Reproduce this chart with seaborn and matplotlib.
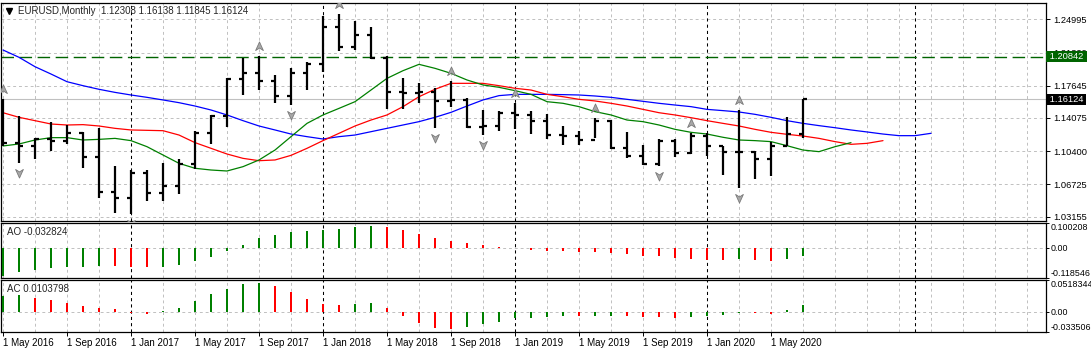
import numpy as np
import pandas as pd
import matplotlib
matplotlib.use("Agg")
import matplotlib.pyplot as plt
from matplotlib.path import Path
from matplotlib.transforms import offset_copy, blended_transform_factory
import seaborn as sns

# EURUSD monthly bars, May 2016 .. Jul 2020
months = pd.date_range("2016-05-01", periods=51, freq="MS")
open_ = [1.1451, 1.1131, 1.1103, 1.1175, 1.1157, 1.1240, 1.0981, 1.0588,
         1.0517, 1.0798, 1.0575, 1.0652, 1.0895, 1.1242, 1.1426, 1.1842, 1.1905, 1.1813, 1.1646, 1.1903,
         1.2005, 1.2414, 1.2193, 1.2324, 1.2076, 1.1693, 1.1684, 1.1690, 1.1601, 1.1604, 1.1312, 1.1314,
         1.1467, 1.1445, 1.1372, 1.1217, 1.1213, 1.1169, 1.1370, 1.1076, 1.0989, 1.0899, 1.1151, 1.1017,
         1.1213, 1.1093, 1.1027, 1.1031, 1.0955, 1.1101, 1.12308]
high = [1.1616, 1.1428, 1.1186, 1.1366, 1.1327, 1.1256, 1.1300, 1.0875,
        1.0829, 1.0829, 1.0906, 1.0951, 1.1268, 1.1446, 1.1846, 1.2070, 1.2092, 1.1880, 1.1961, 1.2023,
        1.2537, 1.2556, 1.2476, 1.2414, 1.2097, 1.1852, 1.1791, 1.1734, 1.1815, 1.1625, 1.1500, 1.1486,
        1.1570, 1.1489, 1.1448, 1.1324, 1.1264, 1.1412, 1.1382, 1.1250, 1.1109, 1.1179, 1.1176, 1.1240,
        1.1239, 1.1099, 1.1495, 1.1039, 1.1146, 1.1422, 1.16138]
low = [1.1098, 1.0912, 1.0952, 1.1045, 1.1122, 1.0851, 1.0518, 1.0352,
       1.0340, 1.0494, 1.0494, 1.0569, 1.0839, 1.1119, 1.1312, 1.1662, 1.1717, 1.1575, 1.1554, 1.1718,
       1.1916, 1.2154, 1.2155, 1.2055, 1.1510, 1.1508, 1.1576, 1.1301, 1.1526, 1.1302, 1.1216, 1.1269,
       1.1289, 1.1234, 1.1176, 1.1110, 1.1107, 1.1181, 1.1067, 1.0963, 1.0885, 1.0879, 1.0981, 1.1010,
       1.0992, 1.0778, 1.0636, 1.0727, 1.0767, 1.1098, 1.11845]
close = [1.1130, 1.1103, 1.1174, 1.1157, 1.1240, 1.0981, 1.0588, 1.0517,
         1.0798, 1.0575, 1.0652, 1.0895, 1.1242, 1.1426, 1.1842, 1.1905, 1.1813, 1.1646, 1.1903, 1.2005,
         1.2414, 1.2193, 1.2324, 1.2076, 1.1693, 1.1684, 1.1690, 1.1601, 1.1604, 1.1312, 1.1314, 1.1467,
         1.1445, 1.1372, 1.1217, 1.1213, 1.1169, 1.1370, 1.1076, 1.0989, 1.0899, 1.1151, 1.1017, 1.1213,
         1.1093, 1.1027, 1.1031, 1.0955, 1.1101, 1.1233, 1.16124]

# Alligator lines (they run on past the last bar)
jaw = [1.2160, 1.2079, 1.1975, 1.1894, 1.1809, 1.1765, 1.1725, 1.1691, 1.1662, 1.1636,
       1.1607, 1.1577, 1.1540, 1.1496, 1.1441, 1.1378, 1.1319, 1.1275, 1.1230, 1.1201,
       1.1175, 1.1201, 1.1219, 1.1256, 1.1293, 1.1330, 1.1367, 1.1415, 1.1470, 1.1540,
       1.1607, 1.1655, 1.1669, 1.1669, 1.1669, 1.1666, 1.1662, 1.1651, 1.1636, 1.1614,
       1.1592, 1.1570, 1.1551, 1.1533, 1.1503, 1.1489, 1.1474, 1.1448, 1.1415, 1.1378,
       1.1348, 1.1323, 1.1300, 1.1275, 1.1253, 1.1230, 1.1212, 1.1212, 1.1238]
teeth = [1.1466, 1.1415, 1.1378, 1.1341, 1.1330, 1.1334, 1.1319, 1.1293, 1.1275, 1.1271,
         1.1267, 1.1219, 1.1135, 1.1072, 1.1009, 1.0961, 1.0935, 1.0943, 1.0994, 1.1072,
         1.1157, 1.1238, 1.1319, 1.1385, 1.1441, 1.1533, 1.1643, 1.1725, 1.1791, 1.1791,
         1.1791, 1.1765, 1.1736, 1.1717, 1.1669, 1.1643, 1.1614, 1.1596, 1.1570, 1.1540,
         1.1503, 1.1466, 1.1441, 1.1411, 1.1378, 1.1348, 1.1319, 1.1282, 1.1249, 1.1227,
         1.1208, 1.1182, 1.1146, 1.1116, 1.1127, 1.1157]
lips = [1.1098, 1.1120, 1.1164, 1.1190, 1.1190, 1.1164, 1.1171, 1.1182, 1.1157, 1.1090,
        1.0998, 1.0906, 1.0851, 1.0832, 1.0821, 1.0869, 1.0943, 1.1053, 1.1201, 1.1348,
        1.1441, 1.1514, 1.1588, 1.1717, 1.1846, 1.1931, 1.2001, 1.1957, 1.1902, 1.1828,
        1.1773, 1.1747, 1.1710, 1.1669, 1.1588, 1.1570, 1.1533, 1.1478, 1.1441, 1.1385,
        1.1367, 1.1330, 1.1282, 1.1249, 1.1230, 1.1194, 1.1164, 1.1157, 1.1146, 1.1101,
        1.1053, 1.1035, 1.1090, 1.1135]

up_fractals = [0, 16, 21, 28, 32, 37, 43, 46]
down_fractals = [1, 8, 18, 27, 30, 41, 46]

ao = [-0.112, -0.096, -0.088, -0.080, -0.076, -0.0755, -0.0715, -0.0735, -0.076, -0.0765,
      -0.0755, -0.068, -0.053, -0.037, -0.013, 0.012, 0.038, 0.053, 0.062, 0.066,
      0.071, 0.074, 0.082, 0.088, 0.084, 0.072, 0.057, 0.041, 0.029, 0.021,
      0.013, 0.005, -0.002, -0.007, -0.011, -0.014, -0.017, -0.018, -0.022, -0.026,
      -0.032, -0.034, -0.042, -0.046, -0.047, -0.048, -0.045, -0.050, -0.051, -0.044,
      -0.032824]
ac = [0.026, 0.027, 0.022, 0.019, 0.014, 0.009, 0.0066, 0.004, -0.003, -0.0044,
      0.0005, 0.0055, 0.017, 0.029, 0.037, 0.045, 0.047, 0.042, 0.032, 0.020,
      0.012, 0.0105, 0.012, 0.014, 0.0055, -0.0072, -0.019, -0.027, -0.029, -0.0255,
      -0.021, -0.017, -0.011, -0.0105, -0.0089, -0.0072, -0.0075, -0.0070, -0.0068, -0.0073,
      -0.0089, -0.009, -0.0105, -0.0089, -0.0076, -0.0055, -0.0028, -0.003, -0.0039, 0.0022,
      0.0103798]

price_ticks = [1.24995, 1.21320, 1.17645, 1.14075, 1.10400, 1.06725, 1.03155]
ao_range = (-0.118546, 0.100208)
ac_range = (-0.033506, 0.0518344)
date_labels = ["1 May 2016", "1 Sep 2016", "1 Jan 2017", "1 May 2017", "1 Sep 2017",
               "1 Jan 2018", "1 May 2018", "1 Sep 2018", "1 Jan 2019", "1 May 2019",
               "1 Sep 2019", "1 Jan 2020", "1 May 2020"]
separators = [8, 20, 32, 44, 57]
hline_level = 1.20842

W, H = 1091, 353
GRID = "#c0c0c0"
GREEN, RED = "#008000", "#ff0000"

sns.set_style("white")
plt.rcParams["font.family"] = ["Liberation Sans", "DejaVu Sans"]

fig = plt.figure(figsize=(W / 100, H / 100), dpi=100)


def box(x0, y0, x1, y1):
    return [x0 / W, 1 - y1 / H, (x1 - x0) / W, (y1 - y0) / H]


ax = fig.add_axes(box(0.5, 2.5, 1045.7, 220.5))
ax_ao = fig.add_axes(box(0.5, 222.8, 1045.7, 277.7))
ax_ac = fig.add_axes(box(0.5, 280.3, 1045.7, 331.7))
xlim = ((0.5 - 3) / 16, (1045.7 - 3) / 16)

for a in (ax, ax_ao, ax_ac):
    a.set_xlim(xlim)
    a.set_facecolor("white")
    for s in a.spines.values():
        s.set_color("black")
        s.set_linewidth(0.9)
    for i in range(0, 66, 2):
        if i not in separators:
            a.axvline(i, color=GRID, lw=0.7, ls=(0, (3, 3)), zorder=0)
    for s in separators:
        a.axvline(s, color="black", lw=0.75, ls=(0, (3, 3)), zorder=1)
    a.yaxis.tick_right()
    a.tick_params(axis="y", right=True, direction="out", length=2.5, width=0.7,
                  pad=1.2, labelsize=6.4, colors="black")

# ---- main price panel
x = np.arange(len(close))
for p in price_ticks:
    ax.axhline(p, color=GRID, lw=0.7, ls=(0, (3, 3)), zorder=0)
ax.axhline(close[-1], color="#c0c0c0", lw=0.8, zorder=1)
ax.axhline(hline_level, color="#006400", lw=1.0, ls=(0, (9, 4)), zorder=2)

sns.lineplot(x=np.arange(len(jaw)), y=jaw, color="#0000ff", lw=0.9, ax=ax, zorder=3)
sns.lineplot(x=np.arange(len(teeth)), y=teeth, color=RED, lw=0.9, ax=ax, zorder=3)
sns.lineplot(x=np.arange(len(lips)), y=lips, color=GREEN, lw=0.9, ax=ax, zorder=3)

ax.vlines(x, low, high, color="black", lw=1.6, zorder=4)
ax.hlines(open_, x - 0.27, x, color="black", lw=1.6, zorder=4)
ax.hlines(close, x, x + 0.27, color="black", lw=1.6, zorder=4)

codes = [Path.MOVETO, Path.LINETO, Path.LINETO, Path.LINETO, Path.CLOSEPOLY]
up_arrow = Path([(0, 1), (0.7, -0.55), (0, -0.1), (-0.7, -0.55), (0, 1)], codes)
down_arrow = Path([(0, -1), (0.7, 0.55), (0, 0.1), (-0.7, 0.55), (0, -1)], codes)
ax.plot(up_fractals, [high[i] for i in up_fractals], ls="none", marker=up_arrow, ms=8,
        mfc="#a8a8a8", mec="#7a7a7a", mew=0.6, zorder=5,
        transform=offset_copy(ax.transData, fig=fig, y=9, units="dots"))
ax.plot(down_fractals, [low[i] for i in down_fractals], ls="none", marker=down_arrow, ms=8,
        mfc="#a8a8a8", mec="#7a7a7a", mew=0.6, zorder=5,
        transform=offset_copy(ax.transData, fig=fig, y=-9, units="dots"))

ax.set_ylim(1.02733, 1.26854)
ax.set_yticks(price_ticks)
ax.set_yticklabels([f"{p:.5f}" for p in price_ticks])
ax.tick_params(axis="y", length=3, pad=2.5, labelsize=6.7)
ax.set_xticks([])
ax.set_xlabel("")
ax.set_ylabel("")

tr = blended_transform_factory(ax.transAxes, ax.transData)
ax.text(1.001, hline_level, f" {hline_level:.5f} ", transform=tr, color="white", fontsize=6.7,
        va="center", ha="left", clip_on=False, zorder=6,
        bbox=dict(boxstyle="square,pad=0.12", fc="#006400", ec="none"))
ax.text(1.001, close[-1], f" {close[-1]:.5f} ", transform=tr, color="white", fontsize=6.7,
        va="center", ha="left", clip_on=False, zorder=6,
        bbox=dict(boxstyle="square,pad=0.08", fc="black", ec="none"))

ax.plot([0.0086], [0.962], marker="v", ms=4, color="black", transform=ax.transAxes, clip_on=False)
ax.text(0.0167, 0.962,
        f"EURUSD,Monthly  {open_[-1]:.5f} {high[-1]:.5f} {low[-1]:.5f} {close[-1]:.5f}",
        transform=ax.transAxes, fontsize=7, va="center", ha="left")


# ---- oscillator panels
def bar_colors(vals):
    cols = [GREEN]
    for prev, cur in zip(vals[:-1], vals[1:]):
        cols.append(GREEN if cur > prev else RED)
    return cols


for a, vals, (lo, hi), name in ((ax_ao, ao, ao_range, "AO"), (ax_ac, ac, ac_range, "AC")):
    a.axhline(0, color=GRID, lw=0.7, ls=(0, (3, 3)), zorder=0)
    a.bar(x, vals, width=0.18, color=bar_colors(vals), edgecolor="none", linewidth=0, zorder=3)
    a.set_ylim(lo, hi)
    a.set_yticks([hi, 0, lo])
    a.set_yticklabels([f"{hi}", "0.00", f"{lo}"])
    lbls = a.get_yticklabels()
    lbls[0].set_va("top")
    lbls[2].set_va("bottom")
    a.text(0.0065, 0.83, f"{name} {vals[-1]}", transform=a.transAxes, fontsize=7,
           va="center", ha="left")

ax_ao.set_xticks([])
ax_ac.set_xticks(range(0, 4 * len(date_labels), 4))
ax_ac.set_xticklabels(date_labels, ha="left")
ax_ac.tick_params(axis="x", bottom=True, direction="out", length=3, width=0.7,
                  pad=1.5, labelsize=7, colors="black")

fig.savefig("out.png", dpi=100)
